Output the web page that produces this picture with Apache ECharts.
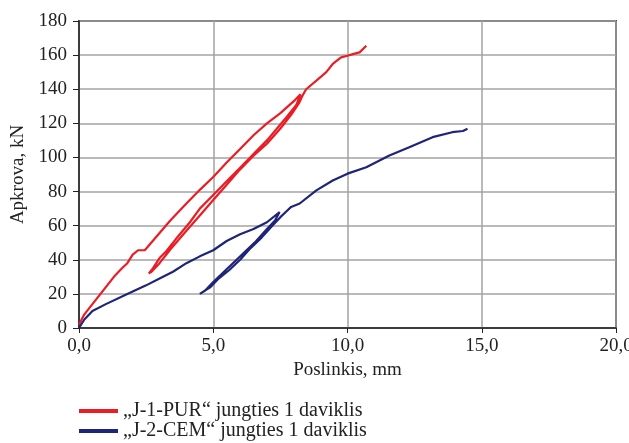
<!DOCTYPE html>
<html><head><meta charset="utf-8">
<script src="https://cdn.jsdelivr.net/npm/echarts@6/dist/echarts.min.js"></script>
<style>html,body{margin:0;padding:0;background:#fff}#c{width:629px;height:443px}</style>
</head><body><div id="c"></div>
<script>
// J-1-PUR (displacement mm, load kN)
const purX = [0,0.2,0.5,1.0,1.3,1.6,1.8,2.0,2.2,2.45,2.8,3.4,4.0,4.5,5.0,5.5,6.0,6.5,7.0,7.5,8.0,8.25,
  8.3,8.1,7.75,7.0,6.5,6.0,5.5,5.0,4.5,4.13,3.6,3.25,3.0,2.75,2.6,
  2.7,3.0,3.4,4.0,4.5,5.0,5.5,6.0,6.5,7.0,7.5,7.9,8.2,8.35,8.46,8.84,9.21,9.45,9.76,10.0,10.2,10.45,10.7];
const purY = [2,8,14,24,30,35,38,43,45.6,45.6,52,63,73,81,88.5,97,105,113,120,126,133,137,
  136,131,124,110,102,94,86,78,70,62,52,45,41,35,32,
  33,38,46,57,66,75,84,93,101,108,117,125,132,137,140,145,150,154.8,158.7,159.6,160.6,161.6,165.5];
// J-2-CEM
const cemX = [0,0.2,0.5,1.0,1.8,2.5,3.0,3.5,4.0,4.5,5.0,5.5,6.0,6.5,7.0,7.47,
  7.3,7.0,6.6,6.2,5.8,5.4,5.0,4.7,4.5,
  4.6,4.9,5.2,5.6,6.0,6.4,6.8,7.2,7.5,7.7,7.9,8.22,8.84,9.45,10.0,10.7,11.56,12.3,13.17,13.9,14.3,14.47];
const cemY = [0,5,10,14,20,25,29,33,38,42,45.6,51,55,58,62,68,
  63,58,51,45,39,33,27,22,20,
  21,24,29,34,40,47,53,60,65,68,71,73,80.7,86.5,90.5,94.3,101.2,106,111.9,114.8,115.5,116.8];
const seriesNames = ['„J-1-PUR“ jungties 1 daviklis', '„J-2-CEM“ jungties 1 daviklis'];
const xTicks = [0,5,10,15,20];
const xTickLabels = ['0,0','5,0','10,0','15,0','20,0'];
const yTicks = [0,20,40,60,80,100,120,140,160,180];
const xTitle = 'Poslinkis, mm';
const yTitle = 'Apkrova, kN';

const zip = (a,b) => a.map((v,i)=>[v,b[i]]);
const font = 'Liberation Serif';
const chart = echarts.init(document.getElementById('c'));
chart.setOption({
  animation:false,
  grid:{left:79,right:13,top:21,bottom:115,show:true,borderColor:'#444',borderWidth:2,
    outerBoundsMode:'none',containLabel:false},
  legend:{orient:'vertical',left:79,top:401,padding:0,itemWidth:39,itemHeight:4,itemGap:0,icon:'rect',
    textStyle:{fontFamily:font,fontSize:20,lineHeight:20,color:'#222'},
    data:seriesNames},
  xAxis:{type:'value',min:0,max:20,interval:5,
    name:xTitle,nameLocation:'middle',nameGap:30,
    nameTextStyle:{fontFamily:font,fontSize:19,color:'#222'},
    axisLine:{lineStyle:{color:'#222',width:1.5}},
    axisTick:{show:true,length:5,lineStyle:{color:'#222'}},
    axisLabel:{fontFamily:font,fontSize:19,color:'#222',margin:9,
      formatter:v=>{const i=xTicks.indexOf(v);return i>=0?xTickLabels[i]:'';}},
    splitLine:{show:true,lineStyle:{color:'#a3a3a3',width:1.5}}},
  yAxis:{type:'value',min:0,max:180,interval:20,
    name:yTitle,nameLocation:'middle',nameGap:48,nameRotate:90,
    nameTextStyle:{fontFamily:font,fontSize:19,color:'#222'},
    axisLine:{show:true,lineStyle:{color:'#222',width:1.5}},
    axisTick:{show:true,length:6,lineStyle:{color:'#222'}},
    axisLabel:{fontFamily:font,fontSize:19,color:'#222',margin:12,
      formatter:v=>yTicks.includes(v)?String(v):''},
    splitLine:{show:true,lineStyle:{color:'#a3a3a3',width:1.5}}},
  series:[
    {name:seriesNames[0],type:'line',data:zip(purX,purY),showSymbol:false,symbol:'none',
      lineStyle:{color:'#ec1c24',width:2.2},itemStyle:{color:'#ec1c24'}},
    {name:seriesNames[1],type:'line',data:zip(cemX,cemY),showSymbol:false,symbol:'none',
      lineStyle:{color:'#1e2478',width:2.2},itemStyle:{color:'#1e2478'}}
  ]
});
</script></body></html>
